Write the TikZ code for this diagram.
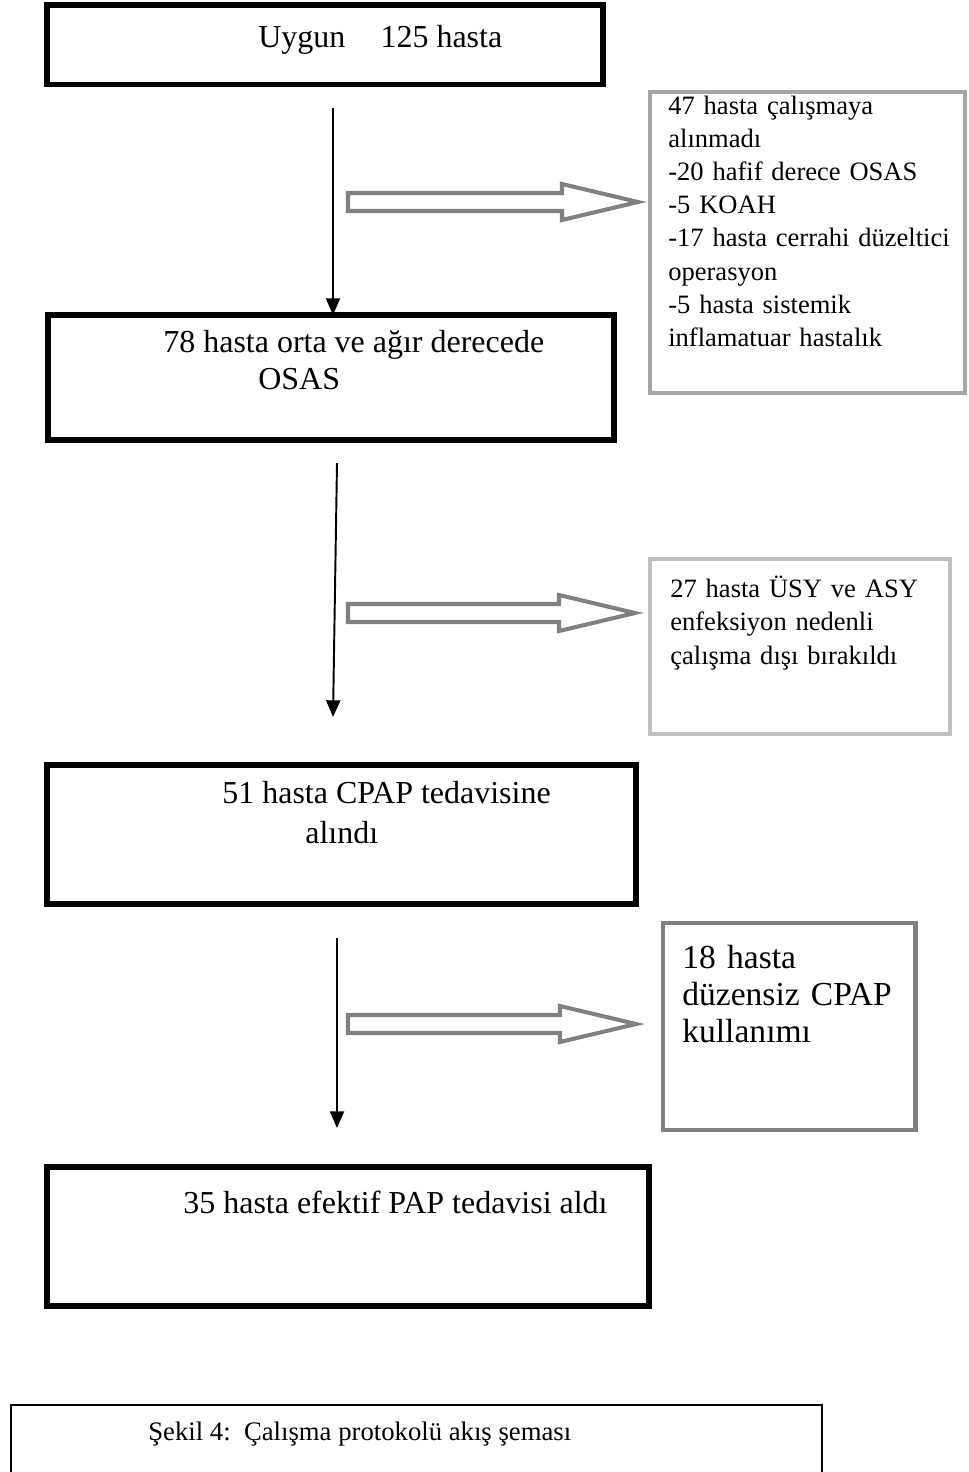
\documentclass[tikz,border=0pt]{standalone}
\usepackage{fontspec}
\setmainfont{Liberation Serif}
\usepackage{tikz}
\usetikzlibrary{calc,arrows.meta}
\def\hollowarrow(#1)(#2){\draw[hollow] ($(#1)+(0,-9)$) -- ($(#2)+(-76,-9)$) -- ($(#2)+(-76,-18)$) -- (#2) -- ($(#2)+(-76,18)$) -- ($(#2)+(-76,9)$) -- ($(#1)+(0,9)$) -- cycle;}

\begin{document}
\begin{tikzpicture}[x=0.02cm, y=-0.02cm,
		mainbox/.style={draw, line width=3pt, anchor=north west, inner sep=0pt, outer sep=0pt},
		sidebox/.style={draw, line width=2.3pt, anchor=north west, inner sep=0pt, outer sep=0pt},
		maintext/.style={anchor=base west, inner sep=0pt, font=\fontsize{18.2}{22}\selectfont},
		sidetext/.style={anchor=base west, inner sep=0pt, align=left, text width=6cm, font=\fontsize{15.1}{19.2}\selectfont},
		flow/.style={line width=1.1pt, -{Triangle[length=9.5pt, width=8pt]}},
		hollow/.style={line width=2.3pt, color=black!50}]
		%%%%% START %%%%%
		\useasboundingbox (0, 0) rectangle (968, 1472);
		\clip (0, 0) rectangle (968, 1472);
		
		% main column
		\node[mainbox, minimum width=11.12cm, minimum height=1.59cm] (b1) at (47, 5) {};
		\node[maintext] (t1) at (258, 47) {Uygun\hspace{1.1em}125 hasta};
		
		\node[mainbox, minimum width=11.32cm, minimum height=2.50cm] (b2) at (48, 315) {};
		\node[maintext] (t2a) at (163, 352) {78 hasta orta ve ağır derecede};
		\node[maintext] (t2b) at (258, 389) {OSAS};
		
		\node[mainbox, minimum width=11.78cm, minimum height=2.78cm] (b3) at (47, 765) {};
		\node[maintext] (t3a) at (222, 803) {51 hasta CPAP tedavisine};
		\node[maintext] (t3b) at (305, 843) {alındı};
		
		\node[mainbox, minimum width=12.04cm, minimum height=2.78cm] (b4) at (47, 1167) {};
		\node[maintext] (t4) at (183, 1213) {35 hasta efektif PAP tedavisi aldı};
		
		% side boxes
		\node[sidebox, color=black!35, minimum width=6.30cm, minimum height=6.02cm] (s1) at (650, 92) {};
		\node[sidetext, font=\fontsize{15.1}{18.9}\selectfont] (u1) at (668, 114) {47 hasta çalışmaya\\alınmadı\\-20 hafif\ derece OSAS\\-5 KOAH\\-17 hasta cerrahi düzeltici\\operasyon\\-5 hasta sistemik\\inflamatuar hastalık};
		
		\node[sidebox, color=black!25, minimum width=6.00cm, minimum height=3.50cm] (s2) at (650, 559) {};
		\node[sidetext] (u2) at (670, 597) {27 hasta ÜSY ve ASY\\enfeksiyon nedenli\\çalışma dışı bırakıldı};
		
		\node[sidebox, line width=2.8pt, color=black!50, minimum width=5.06cm, minimum height=4.14cm] (s3) at (663, 923) {};
		\node[sidetext, font=\fontsize{19.1}{21.3}\selectfont] (u3) at (682, 968) {18 hasta\\düzensiz CPAP\\kullanımı};
		
		% down arrows
		\coordinate (a1) at (333, 108);
		\draw[flow] (a1) -- (a1 |- b2.north);
		\coordinate (a2s) at (337, 463);
		\coordinate (a2e) at (333, 717);
		\draw[flow] (a2s) -- (a2e);
		\coordinate (a3s) at (337, 938);
		\coordinate (a3e) at (337, 1128);
		\draw[flow] (a3s) -- (a3e);
		
		% block arrows to the side
		\coordinate (h1) at (348, 202);
		\coordinate (p1) at (638, 202);
		\hollowarrow(h1)(p1)
		\coordinate (h2) at (348, 613);
		\coordinate (p2) at (635, 613);
		\hollowarrow(h2)(p2)
		\coordinate (h3) at (348, 1024);
		\coordinate (p3) at (636, 1024);
		\hollowarrow(h3)(p3)
		
		% caption
		\node[draw, line width=0.9pt, anchor=north west, inner sep=0pt, outer sep=0pt, minimum width=16.22cm, minimum height=2cm] (cap) at (11, 1405) {};
		\node[anchor=base west, inner sep=0pt, font=\fontsize{15.2}{18}\selectfont] (capt) at (148, 1440) {Şekil 4:\ \ Çalışma protokolü akış şeması};
		%%%%% END %%%%%
\end{tikzpicture}
\end{document}
